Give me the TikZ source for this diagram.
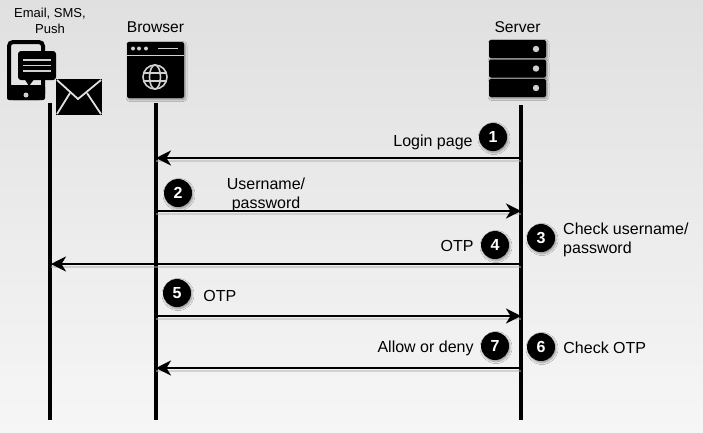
\documentclass[tikz,border=0pt]{standalone}
\usepackage{fontspec}
\setmainfont{Liberation Sans}
\usetikzlibrary{arrows.meta,positioning,shadows.blur}
\definecolor{bgtop}{HTML}{E0E0E0}
\definecolor{bgbottom}{HTML}{F6F6F6}
\definecolor{iconlight}{HTML}{D0D0D0}
\begin{document}
\begin{tikzpicture}[
      x=1pt,y=-1pt,
      lifeline/.style={line width=3.6pt,draw=black},
      msg/.style={-{Stealth[length=15pt,width=15pt,inset=4.5pt]},line width=2.4pt,draw=black,
        preaction={draw=black!30,line width=2pt,-,transform canvas={yshift=-2.5pt},opacity=.5}},
      badge/.style={circle,fill=black,text=white,minimum size=28pt,inner sep=0pt,
        font=\fontsize{16}{16}\selectfont\bfseries,blur shadow={shadow blur steps=6,shadow xshift=1pt,shadow yshift=-1.5pt,shadow blur radius=2pt}},
      lbl/.style={font=\fontsize{16}{19}\selectfont,align=left,inner sep=0pt},
      head/.style={font=\fontsize{15.6}{19}\selectfont,align=center,inner sep=0pt},
      iconbox/.style={fill=black,rounded corners=2pt,blur shadow={shadow blur steps=6,shadow xshift=1pt,shadow yshift=-1.5pt,shadow blur radius=2pt}},
      glyph/.style={draw=iconlight,line width=1.6pt}
    ]

    % Background
    \shade[top color=bgtop,bottom color=bgbottom,draw=none] (0,0) rectangle (703,432);
    \useasboundingbox (0,0) rectangle (703,432);

    % Lifelines
    \coordinate (MT) at (50,103);  \coordinate (MB) at (50,420);
    \coordinate (BT) at (156,103); \coordinate (BB) at (156,420);
    \coordinate (ST) at (521,105); \coordinate (SB) at (521,420);
    \draw[lifeline] (MT) -- (MB);
    \draw[lifeline] (BT) -- (BB);
    \draw[lifeline] (ST) -- (SB);

    % Points on the lifelines
    \coordinate (S1) at (521,158); \coordinate (B1) at (156,158);
    \coordinate (B2) at (156,211); \coordinate (S2) at (521,211);
    \coordinate (S3) at (521,264); \coordinate (M3) at (51,264);
    \coordinate (B4) at (156,316); \coordinate (S4) at (521,316);
    \coordinate (S5) at (521,368); \coordinate (B5) at (156,368);

    % Messages
    \draw[msg] (S1) -- (B1);
    \draw[msg] (B2) -- (S2);
    \draw[msg] (S3) -- (M3);
    \draw[msg] (B4) -- (S4);
    \draw[msg] (S5) -- (B5);

    % Headers
    \node[head,font=\fontsize{13}{16}\selectfont] (mobile) at (50,21) {Email, SMS,\\Push};
    \node[head] (browser) at (155.5,27) {Browser};
    \node[head] (server) at (517.5,27) {Server};

    % Phone
    \draw[line width=4pt,rounded corners=4pt] (9,42) rectangle (43,98);
    \fill[rounded corners=2pt] (7,85) rectangle (45,100);
    \fill[iconlight] (26,95) circle (2.5);
    \fill[rounded corners=3pt] (18,51) rectangle (56,80);
    \fill (24,78) -- (29,86) -- (35,78) -- cycle;
    \foreach \y in {60,65.5,71}
      \draw[draw=iconlight,line width=1.4pt] (23,\y) -- (51,\y);

    % Envelope
    \fill (56,79) rectangle (102,115);
    \draw[draw=bgtop,line width=1.8pt] (57,80) -- (78,99) -- (101,80);
    \draw[draw=bgtop,line width=1.8pt] (57,114) -- (70,93);
    \draw[draw=bgtop,line width=1.8pt] (101,114) -- (87,93);

    % Browser window
    \path[iconbox] (127,42) rectangle (184,98);
    \draw[draw=iconlight,line width=1pt] (127,55) -- (184,55);
    \foreach \x in {133,139,146}
      \fill[iconlight] (\x,48.5) circle (2);
    \draw[draw=iconlight,line width=1.6pt] (158,48.5) -- (178,48.5);
    \draw[glyph] (155,77) circle (12);
    \draw[glyph] (155,77) ellipse (5.5 and 12);
    \draw[glyph] (143,73) -- (167,73);
    \draw[glyph] (143,81) -- (167,81);

    % Server
    \foreach \y in {40,59.5,79}{
      \path[iconbox] (489,\y) rectangle (546,\y+18);
      \fill[iconlight] (536,\y+9) circle (3.2);
    }

    % Steps
    \node[badge] (n1) at (493,137) {1};
    \node[badge] (n2) at (178,193) {2};
    \node[badge] (n3) at (541,238) {3};
    \node[badge] (n4) at (495,245) {4};
    \node[badge] (n5) at (177,293) {5};
    \node[badge] (n6) at (541,347) {6};
    \node[badge] (n7) at (495,346) {7};

    % Labels
    \node[lbl,left=6pt of n1,yshift=-5.5pt] (l1) {Login page};
    \node[head,font=\fontsize{16}{19}\selectfont] (l2) at (266,195) {Username/\\password};
    \node[lbl,anchor=west] (l3) at (563,240) {Check username/\\password};
    \node[lbl,left=7pt of n4,yshift=-1pt] (l4) {OTP};
    \node[lbl,right=12pt of n5,yshift=-3pt] (l5) {OTP};
    \node[lbl,right=8pt of n6,yshift=-1pt] (l6) {Check OTP};
    \node[lbl,left=7pt of n7,yshift=-2.5pt] (l7) {Allow or deny};

  \end{tikzpicture}
\end{document}
